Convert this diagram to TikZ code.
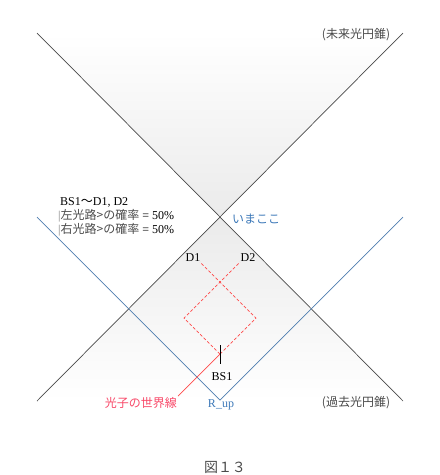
\documentclass[tikz,border=0pt]{standalone}
\usepackage{fontspec}
\setmainfont{Liberation Serif}
\newfontfamily\jp{Noto Sans CJK JP}
\usetikzlibrary{positioning}

\definecolor{conegray}{HTML}{4A4A4A}
\definecolor{lineblue}{HTML}{4F7EB0}
\definecolor{textblue}{HTML}{3C78B8}
\definecolor{photonred}{HTML}{FF4A4A}
\definecolor{labelred}{HTML}{F84868}

\tikzset{
    cone/.style={draw=conegray, line width=0.7pt},
    bluecone/.style={draw=lineblue, line width=0.7pt},
    path/.style={draw=photonred, line width=0.7pt, dash pattern=on 3pt off 2pt},
    world/.style={draw=photonred, line width=0.7pt},
    lbl/.style={inner sep=0pt, font=\fontsize{12}{14}\selectfont},
}

\begin{document}
\begin{tikzpicture}[x=1pt,y=-1pt]
    \useasboundingbox (0,0) rectangle (440,475);

    % Light cones
    \coordinate (now) at (220,217);
    \coordinate (ftl) at (37,33);
    \coordinate (ftr) at (403,33);
    \coordinate (pbl) at (37,401);
    \coordinate (pbr) at (403,401);
    \shade[top color=white, bottom color=black!8] (ftl) -- (ftr) -- (now) -- cycle;
    \shade[top color=black!8, bottom color=white] (now) -- (pbr) -- (pbl) -- cycle;
    \draw[cone] (ftl) -- (pbr);
    \draw[cone] (ftr) -- (pbl);

    % R_up cone
    \coordinate (rup) at (220,400);
    \coordinate (rl) at (37,217);
    \coordinate (rr) at (403,217);
    \draw[bluecone] (rl) -- (rup) -- (rr);

    % Photon paths (BS1 -> D1, D2)
    \coordinate (bs) at (220,354);
    \coordinate (pl) at (184,318);
    \coordinate (pr) at (256,318);
    \coordinate (d1end) at (200,262);
    \coordinate (d2end) at (240,262);
    \coordinate (wstart) at (178,396);
    \draw[path] (bs) -- (pl) -- (d2end);
    \draw[path] (bs) -- (pr) -- (d1end);
    \draw[world] (wstart) -- (bs);
    \draw[line width=0.8pt] (bs) ++(0.5,-9) -- ++(0,19);

    % Labels
    \node[lbl, text=conegray] (future) at (356,35) {\jp (未来光円錐)};
    \node[lbl, text=conegray] (past) at (356,403) {\jp (過去光円錐)};
    \node[lbl, text=textblue] (here) at (256,219) {\jp いまここ};
    \node[lbl, anchor=north west, align=left] (note) at (58,197)
        {\,BS1{\jp ～}D1, D2\\
         {\color{gray}\textbar}{\jp\color{conegray}左光路>の確率} = 50\%\\
         {\color{gray}\textbar}{\jp\color{conegray}右光路>の確率} = 50\%};
    \node[lbl] (D1) at (193,258) {D1};
    \node[lbl] (D2) at (248,258) {D2};
    \node[lbl] (BS1) at (222,377) {BS1};
    \node[lbl, text=textblue] (Rup) at (221,405) {R\_up};
    \node[lbl, text=labelred, anchor=east] (worldline) at (177,403) {\jp 光子の世界線};
    \node[inner sep=0pt, font=\fontsize{14}{16}\selectfont, text=conegray] (caption) at (225,467) {\jp 図１３};
\end{tikzpicture}
\end{document}
